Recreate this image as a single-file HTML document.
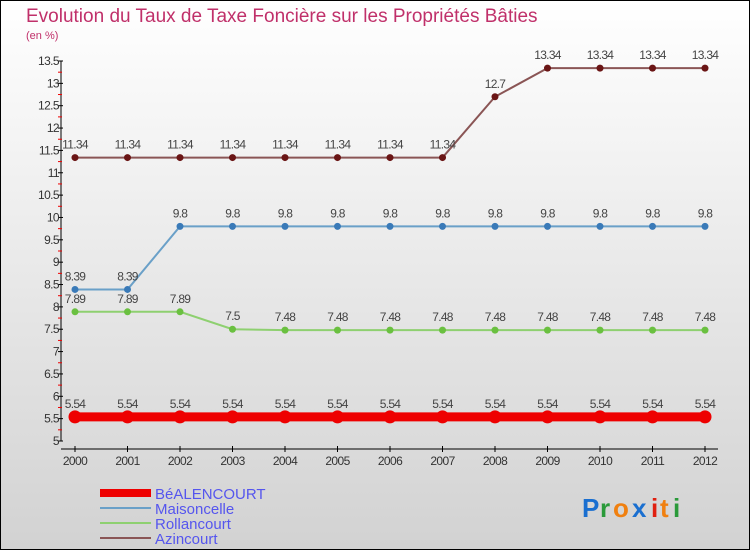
<!DOCTYPE html>
<html><head><meta charset="utf-8"><style>
body{margin:0;}
#c{width:750px;height:550px;position:relative;overflow:hidden;}
svg text{font-family:"Liberation Sans",sans-serif;}
</style></head><body>
<div id="c">
<svg id="s" width="750" height="550" xmlns="http://www.w3.org/2000/svg">
<defs><linearGradient id="bg" x1="0" y1="0" x2="0" y2="1"><stop offset="0" stop-color="#ffffff"/><stop offset="1" stop-color="#d2d2d2"/></linearGradient></defs>
<rect x="0.5" y="0.5" width="749" height="549" fill="url(#bg)" stroke="#000"/>
<text x="26" y="22" font-size="19" fill="#c0306a">Evolution du Taux de Taxe Foncière sur les Propriétés Bâties</text>
<text x="26" y="39" font-size="11" fill="#c0306a">(en %)</text>
<g id="axes"></g><g id="plot"></g>
<g>
<rect x="100" y="489" width="51" height="8" fill="#e00"/>
<text x="155" y="499" font-size="15" fill="#5555ee">BéALENCOURT</text>
<line x1="100" y1="508" x2="151" y2="508" stroke="#6aa0c8" stroke-width="2"/>
<text x="155" y="514" font-size="15" fill="#5555ee">Maisoncelle</text>
<line x1="100" y1="523" x2="151" y2="523" stroke="#8ed070" stroke-width="2"/>
<text x="155" y="529" font-size="15" fill="#5555ee">Rollancourt</text>
<line x1="100" y1="538" x2="151" y2="538" stroke="#8a5555" stroke-width="2"/>
<text x="155" y="544" font-size="15" fill="#5555ee">Azincourt</text>
</g>
<g font-size="26" font-weight="bold">
<text x="582" y="517" fill="#1a6fd0">P</text><text x="600" y="517" fill="#2a9a3a">r</text><text x="613" y="517" fill="#f08010">o</text><text x="632" y="517" fill="#1a6fd0">x</text><text x="651" y="517" fill="#e02010">i</text><text x="660" y="517" fill="#f08010">t</text><text x="673" y="517" fill="#2a9a3a">i</text>
</g>
</svg>
</div>
<script>
const years=[2000,2001,2002,2003,2004,2005,2006,2007,2008,2009,2010,2011,2012];
const bealencourt=[5.54,5.54,5.54,5.54,5.54,5.54,5.54,5.54,5.54,5.54,5.54,5.54,5.54];
const maisoncelle=[8.39,8.39,9.8,9.8,9.8,9.8,9.8,9.8,9.8,9.8,9.8,9.8,9.8];
const rollancourt=[7.89,7.89,7.89,7.5,7.48,7.48,7.48,7.48,7.48,7.48,7.48,7.48,7.48];
const azincourt=[11.34,11.34,11.34,11.34,11.34,11.34,11.34,11.34,12.7,13.34,13.34,13.34,13.34];
const yTicks=[5,5.5,6,6.5,7,7.5,8,8.5,9,9.5,10,10.5,11,11.5,12,12.5,13,13.5];
const NS="http://www.w3.org/2000/svg";
const yMin=5,yMax=13.5,yTop=61,yBot=441;
function y(v){return yBot-(v-yMin)/(yMax-yMin)*(yBot-yTop);}
function x(i){return 75+i*52.5;}
function mk(tag,attrs,parent){const e=document.createElementNS(NS,tag);for(const k in attrs)e.setAttribute(k,attrs[k]);parent.appendChild(e);return e;}
const axes=document.getElementById('axes'),plot=document.getElementById('plot');
const ya=mk('line',{x1:61,y1:yTop,x2:61,y2:yBot,stroke:'#000'},axes);


yTicks.forEach((v,i)=>{
  mk('line',{x1:58,y1:y(v),x2:63,y2:y(v),stroke:'#000'},axes);
  if(v<yMax) mk('line',{x1:58,y1:y(v+0.25),x2:62,y2:y(v+0.25),stroke:'#e00'},axes);
  const t=mk('text',{x:59,y:y(v)+4,'font-size':12,fill:'#333','text-anchor':'end','letter-spacing':'-0.6'},axes);
  t.textContent=String(v);
  
  
});
const xa=mk('line',{x1:61,y1:449,x2:718,y2:449,stroke:'#000'},axes);


years.forEach((yr,i)=>{
  mk('line',{x1:x(i),y1:446,x2:x(i),y2:452,stroke:'#000'},axes);
  const t=mk('text',{x:x(i),y:465,'font-size':12,fill:'#333','text-anchor':'middle','letter-spacing':'-0.6'},axes);
  t.textContent=String(yr);
  
  
});
function series(name,data,color,dot,w,r){
  const g=mk('g',{},plot);
  
  
  mk('polyline',{points:data.map((v,i)=>x(i)+','+y(v)).join(' '),fill:'none',stroke:color,'stroke-width':w},g);
  data.forEach((v,i)=>{
    const c=mk('circle',{cx:x(i),cy:y(v),r:r,fill:dot},g);
    
    
    const t=mk('text',{x:x(i),y:y(v)-9,'font-size':12,fill:'#444','text-anchor':'middle','letter-spacing':'-0.7'},g);
    t.textContent=String(v);
    
    
  });
}
series('azincourt',azincourt,'#8a5555','#6a1515',2,3.5);
series('maisoncelle',maisoncelle,'#6aa0c8','#3a7ab8',2,3.5);
series('rollancourt',rollancourt,'#8ed070','#6ac040',2,3.5);
series('bealencourt',bealencourt,'#e00','#e00',9,6.5);
</script>
</body></html>
